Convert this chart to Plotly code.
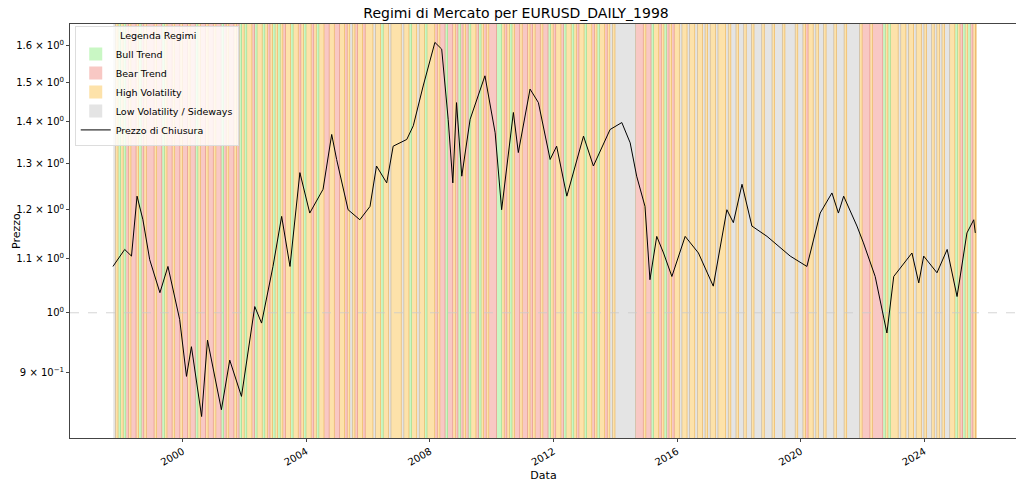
import plotly.graph_objects as go

# Closing price (decimal year, price)
years = [1997.74, 1998.12, 1998.34, 1998.52, 1998.71, 1998.93, 1999.26, 1999.52, 1999.90,
         2000.12, 2000.28, 2000.61, 2000.80, 2001.25, 2001.52, 2001.90, 2002.33, 2002.55,
         2002.92, 2003.20, 2003.47, 2003.79, 2004.11, 2004.54, 2004.82, 2004.98, 2005.35,
         2005.73, 2006.06, 2006.27, 2006.60, 2006.81, 2007.25, 2007.46, 2007.78, 2008.16,
         2008.38, 2008.59, 2008.74, 2008.86, 2009.03, 2009.30, 2009.78, 2010.11, 2010.32,
         2010.70, 2010.86, 2011.24, 2011.51, 2011.89, 2012.10, 2012.43, 2012.97, 2013.29,
         2013.83, 2014.21, 2014.48, 2014.69, 2014.96, 2015.12, 2015.34, 2015.56, 2015.83,
         2016.26, 2016.69, 2017.17, 2017.61, 2017.82, 2018.10, 2018.42, 2018.91, 2019.66,
         2020.20, 2020.63, 2021.01, 2021.22, 2021.39, 2021.82, 2022.03, 2022.41, 2022.79,
         2023.01, 2023.60, 2023.82, 2023.98, 2024.41, 2024.74, 2025.06, 2025.38, 2025.60,
         2025.65]
prices = [1.085, 1.118, 1.105, 1.228, 1.178, 1.098, 1.036, 1.085, 0.988,
          0.894, 0.942, 0.833, 0.953, 0.843, 0.920, 0.863, 1.011, 0.982,
          1.085, 1.185, 1.085, 1.280, 1.192, 1.243, 1.369, 1.310, 1.199,
          1.178, 1.206, 1.295, 1.257, 1.341, 1.357, 1.390, 1.491, 1.610,
          1.591, 1.406, 1.257, 1.448, 1.272, 1.406, 1.518, 1.373, 1.199,
          1.423, 1.326, 1.483, 1.448, 1.310, 1.341, 1.228, 1.365, 1.295,
          1.381, 1.398, 1.349, 1.272, 1.206, 1.060, 1.144, 1.111, 1.066,
          1.144, 1.111, 1.048, 1.199, 1.172, 1.254, 1.165, 1.144, 1.105,
          1.085, 1.192, 1.235, 1.192, 1.228, 1.165, 1.131, 1.066, 0.965,
          1.066, 1.111, 1.054, 1.105, 1.073, 1.118, 1.029, 1.151, 1.178,
          1.151]

# Monthly regime codes from Oct 1997: B=bull, R=bear, H=high vol, L=low vol
regime_start = 1997.75
regime_months = (
    "LHB"
    "HBRHRRHBRHRR" "RHRRBHRRHRRH" "RRHRRBHRRHRR" "HRRBRHRRHRBH"
    "BHHRBHHBHRHB" "HBHRHHBHHRHB" "HHRHBHHRRHHR" "RHHRHLHRHHRH"
    "HHLHHBHHLHHH" "HLHHBHHLHHBH" "HHRHRRBRRHRB" "RHRBHHRBHRHR"
    "RRBBHRHBHRRH" "RRHRHRRHRRBH" "RHHRBHHBHRHH" "BHHRHBHHRHLH"
    "LLLLLLLLRRRH" "RRBHHRHBRHRH" "HLHHLHHLHHLH" "LHHLHHHLHLLH"
    "LLHLLHLLLHLL" "LHLLLHLLLLHL" "LHRHHLHLLHLL" "LHLLLHLLLLLH"
    "RRRHRRRRBHBH" "HHLHHLHHLHHL" "HLLHLHLHLLHH"
    "BHRBHBRH"
)

regime_names = {"B": "Bull Trend", "R": "Bear Trend", "H": "High Volatility",
                "L": "Low Volatility / Sideways"}
fills = {"B": "#c9f7c4", "R": "#f8c8c4", "H": "#fde2aa", "L": "#e4e4e4"}
edges = {"B": "#a8dc92", "R": "#e79a90", "H": "#ecbb6a", "L": "#cdbb9f"}

fig = go.Figure()

# background regime bands (consecutive months merged)
i = 0
n = len(regime_months)
while i < n:
    j = i
    while j + 1 < n and regime_months[j + 1] == regime_months[i]:
        j += 1
    code = regime_months[i]
    x0 = regime_start + i / 12
    x1 = regime_start + (j + 1) / 12
    fig.add_shape(type="rect", xref="x", yref="paper", x0=x0, x1=x1, y0=0, y1=1,
                  fillcolor=fills[code], line=dict(width=0), layer="below")
    fig.add_shape(type="line", xref="x", yref="paper", x0=x1, x1=x1, y0=0, y1=1,
                  line=dict(color=edges[code], width=1.5), layer="below")
    i = j + 1

# legend swatches
for code in ["B", "R", "H", "L"]:
    fig.add_trace(go.Scatter(x=[None], y=[None], mode="markers", name=regime_names[code],
                             marker=dict(symbol="square", size=13, color=fills[code])))

# dashed grid line at 10^0
fig.add_trace(go.Scatter(x=[1996.35, 2027.0], y=[1.0, 1.0], mode="lines", showlegend=False,
                         line=dict(color="#cccccc", width=0.8, dash="dash"), hoverinfo="skip"))

fig.add_trace(go.Scatter(x=years, y=prices, mode="lines", name="Prezzo di Chiusura",
                         line=dict(color="black", width=1)))

ytick_vals = [0.9, 1.0, 1.1, 1.2, 1.3, 1.4, 1.5, 1.6]
ytick_text = ["9 × 10<sup>−1</sup>", "10<sup>0</sup>", "1.1 × 10<sup>0</sup>",
              "1.2 × 10<sup>0</sup>", "1.3 × 10<sup>0</sup>", "1.4 × 10<sup>0</sup>",
              "1.5 × 10<sup>0</sup>", "1.6 × 10<sup>0</sup>"]
xtick_vals = [2000, 2004, 2008, 2012, 2016, 2020, 2024]

fig.add_annotation(text="Prezzo", xref="paper", yref="paper", x=0, y=0.5, xshift=-54,
                   xanchor="center", yanchor="middle", textangle=-90, showarrow=False,
                   font=dict(size=11))

fig.update_layout(
    width=1016, height=479,
    margin=dict(l=62, r=7, t=16, b=49, autoexpand=False),
    paper_bgcolor="white", plot_bgcolor="white",
    font=dict(family="DejaVu Sans", size=10, color="black"),
    title=dict(text="Regimi di Mercato per EURUSD_DAILY_1998", x=0.5, xanchor="center",
               y=0.999, yanchor="top", font=dict(size=14)),
    xaxis=dict(range=[1996.35, 2027.0], tickvals=xtick_vals, tickangle=-30, automargin=False,
               title=dict(text="Data", font=dict(size=11), standoff=4),
               showgrid=False, zeroline=False, showline=True, mirror=True,
               linecolor="#444", ticks="outside", ticklen=3),
    yaxis=dict(type="log", range=[-0.0958, 0.2209], tickvals=ytick_vals, ticktext=ytick_text,
               automargin=False,
               showgrid=False, zeroline=False, showline=True, mirror=True,
               linecolor="#444", ticks="outside", ticklen=3),
    legend=dict(x=0.005, y=0.995, xanchor="left", yanchor="top",
                bgcolor="rgba(255,255,255,0.8)", bordercolor="#dddddd", borderwidth=1,
                title=dict(text="              Legenda Regimi", side="top", font=dict(size=9.5)),
                font=dict(size=9.5), tracegroupgap=0),
)

fig.write_html("out.html")
